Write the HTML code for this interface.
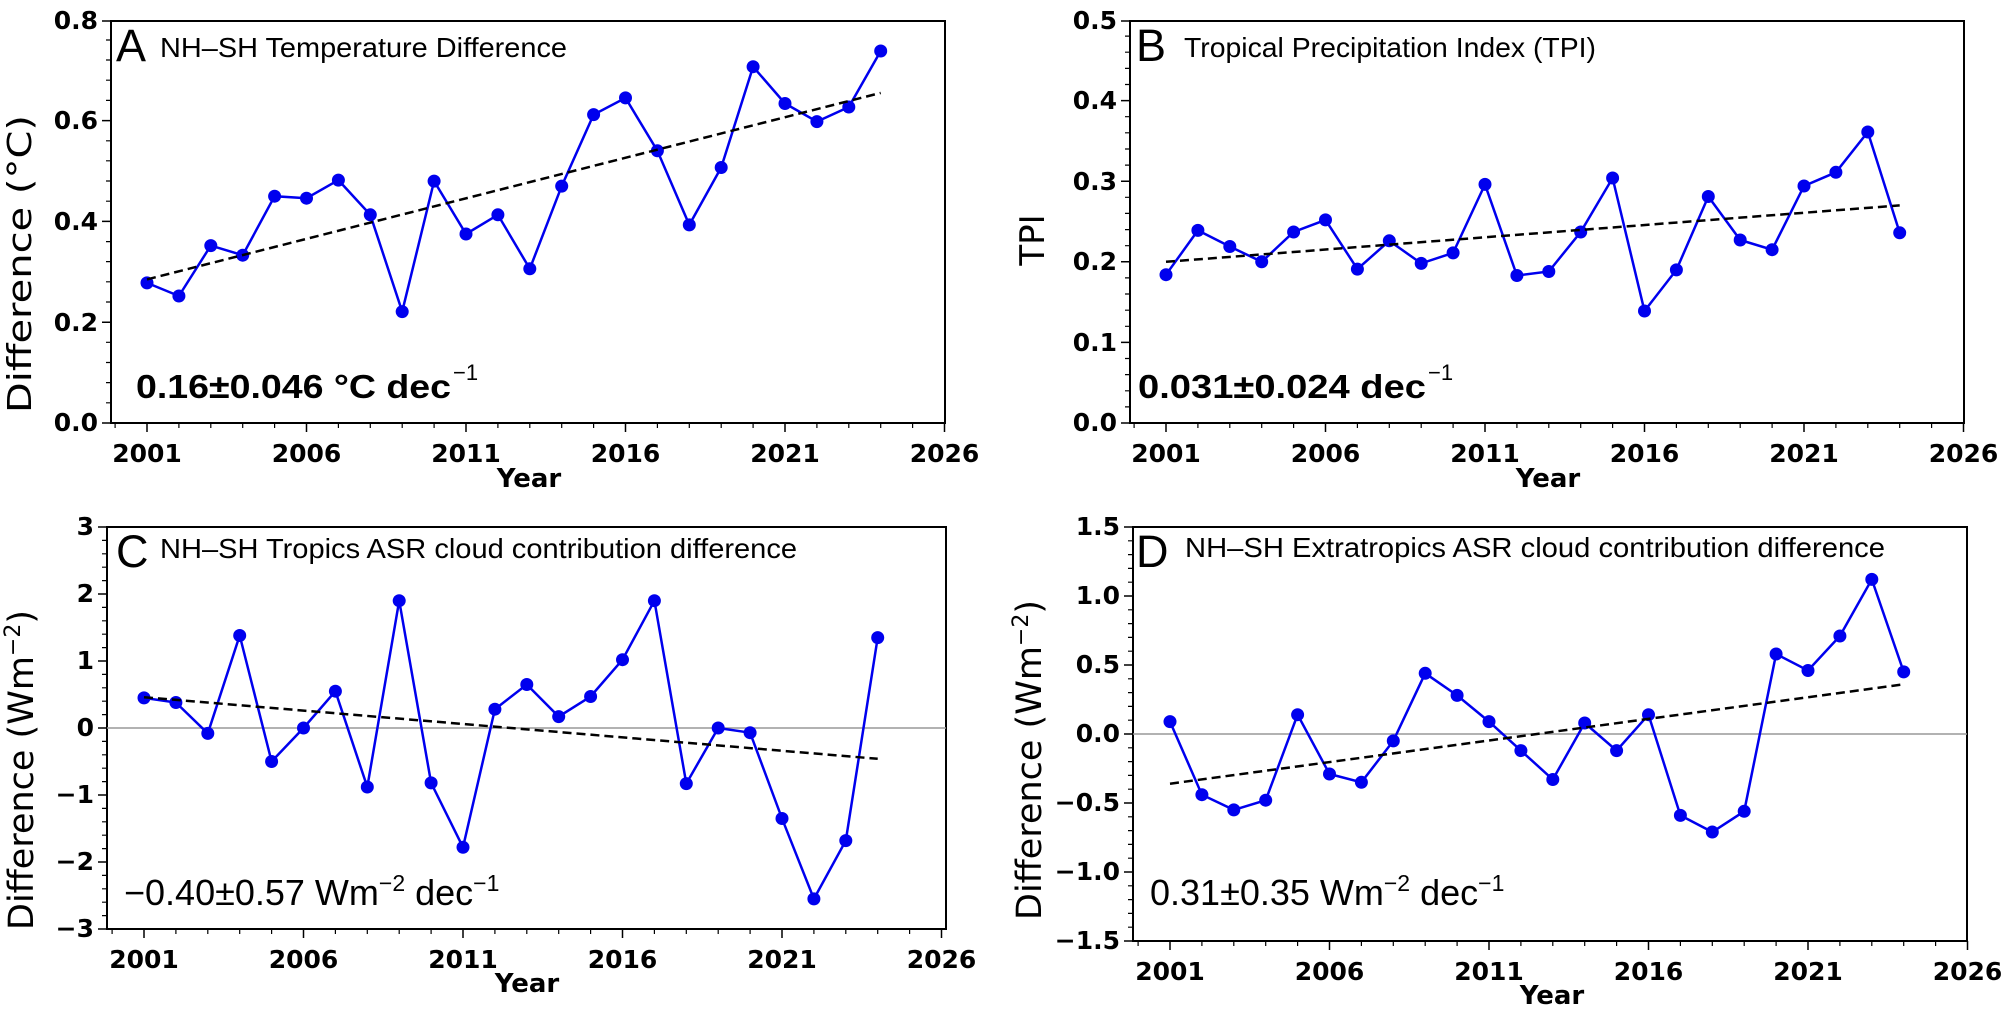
<!DOCTYPE html>
<html><head><meta charset="utf-8"><style>html,body{margin:0;padding:0;background:#fff}svg{display:block}</style></head>
<body>
<svg width="2010" height="1012" viewBox="0 0 2010 1012" xmlns="http://www.w3.org/2000/svg" font-family="'DejaVu Sans', 'Liberation Sans', sans-serif">
<defs>
<g id="xt">
<path d="M147,0v9M306.5,0v9M466,0v9M625.5,0v9M785,0v9M944.5,0v9" stroke="#000" stroke-width="1.5"/>
<path d="M115.1,0v5M178.9,0v5M210.8,0v5M242.7,0v5M274.6,0v5M338.4,0v5M370.3,0v5M402.2,0v5M434.1,0v5M497.9,0v5M529.8,0v5M561.7,0v5M593.6,0v5M657.4,0v5M689.3,0v5M721.2,0v5M753.1,0v5M816.9,0v5M848.8,0v5M880.7,0v5M912.6,0v5" stroke="#000" stroke-width="1.2"/>
<g font-weight="bold" font-size="25" text-anchor="middle" transform="translate(0,39)">
<text x="147">2001</text><text x="306.5">2006</text><text x="466">2011</text><text x="625.5">2016</text><text x="785">2021</text><text x="944.5">2026</text>
</g>
</g>
</defs>

<!-- Panel A -->
<g>
<rect x="111" y="21" width="834" height="402" fill="none" stroke="#000" stroke-width="2"/>
<g transform="translate(0,423)"><use href="#xt"/></g>
<g stroke="#000" stroke-width="1.5"><path d="M111,423h-9M111,322.2h-9M111,221.4h-9M111,120.6h-9M111,21h-9"/></g>
<g stroke="#000" stroke-width="1.2"><path d="M111,402.8h-5M111,382.6h-5M111,362.5h-5M111,342.3h-5M111,302h-5M111,281.8h-5M111,261.6h-5M111,241.6h-5M111,201.2h-5M111,181h-5M111,160.8h-5M111,140.8h-5M111,100.4h-5M111,80.2h-5M111,60h-5M111,40h-5"/></g>
<g font-weight="bold" font-size="25" text-anchor="end"><text x="98" y="431">0.0</text><text x="98" y="331">0.2</text><text x="98" y="230">0.4</text><text x="98" y="129">0.6</text><text x="98" y="29">0.8</text></g>
<text x="529" y="487" font-weight="bold" font-size="26" text-anchor="middle">Year</text>
<text transform="translate(31,264) rotate(-90)" font-size="33" text-anchor="middle" textLength="298" lengthAdjust="spacingAndGlyphs">Difference (°C)</text>
<text x="116" y="61" font-family="'Liberation Sans',sans-serif" font-size="45">A</text>
<text x="160" y="57" font-family="'Liberation Sans',sans-serif" font-size="28" textLength="407" lengthAdjust="spacingAndGlyphs">NH–SH Temperature Difference</text>
<text x="136" y="398" font-family="'Liberation Sans',sans-serif" font-weight="bold" font-size="33" textLength="315" lengthAdjust="spacingAndGlyphs">0.16±0.046 °C dec</text><text x="453" y="380" font-family="'Liberation Sans',sans-serif" font-size="22">−1</text>
<polyline fill="none" stroke="#0000ee" stroke-width="2.5" points="147,282.9 178.9,296 210.8,245.6 242.7,255.2 274.6,196.2 306.5,198.2 338.4,180.1 370.3,214.8 402.2,311.6 434.1,181.1 466,234 497.9,214.8 529.8,268.8 561.7,186.1 593.6,114.6 625.5,97.9 657.4,150.8 689.3,224.9 721.2,167.5 753.1,66.7 785,103.5 816.9,121.6 848.8,107 880.7,51"/>
<g fill="#0000ee"><circle cx="147" cy="282.9" r="6.5"/><circle cx="178.9" cy="296" r="6.5"/><circle cx="210.8" cy="245.6" r="6.5"/><circle cx="242.7" cy="255.2" r="6.5"/><circle cx="274.6" cy="196.2" r="6.5"/><circle cx="306.5" cy="198.2" r="6.5"/><circle cx="338.4" cy="180.1" r="6.5"/><circle cx="370.3" cy="214.8" r="6.5"/><circle cx="402.2" cy="311.6" r="6.5"/><circle cx="434.1" cy="181.1" r="6.5"/><circle cx="466" cy="234" r="6.5"/><circle cx="497.9" cy="214.8" r="6.5"/><circle cx="529.8" cy="268.8" r="6.5"/><circle cx="561.7" cy="186.1" r="6.5"/><circle cx="593.6" cy="114.6" r="6.5"/><circle cx="625.5" cy="97.9" r="6.5"/><circle cx="657.4" cy="150.8" r="6.5"/><circle cx="689.3" cy="224.9" r="6.5"/><circle cx="721.2" cy="167.5" r="6.5"/><circle cx="753.1" cy="66.7" r="6.5"/><circle cx="785" cy="103.5" r="6.5"/><circle cx="816.9" cy="121.6" r="6.5"/><circle cx="848.8" cy="107" r="6.5"/><circle cx="880.7" cy="51" r="6.5"/></g>
<line x1="147" y1="279.4" x2="880.7" y2="92.9" stroke="#000" stroke-width="2.5" stroke-dasharray="9,5"/>
</g>

<!-- Panel B -->
<g>
<rect x="1130" y="21" width="834" height="402" fill="none" stroke="#000" stroke-width="2"/>
<g transform="translate(1019,423)"><use href="#xt"/></g>
<g stroke="#000" stroke-width="1.5"><path d="M1130,423h-9M1130,342.4h-9M1130,261.8h-9M1130,181.2h-9M1130,100.6h-9M1130,21h-9"/></g>
<g stroke="#000" stroke-width="1.2"><path d="M1130,406.9h-5M1130,390.8h-5M1130,374.6h-5M1130,358.5h-5M1130,326.3h-5M1130,310.2h-5M1130,294h-5M1130,277.9h-5M1130,245.7h-5M1130,229.6h-5M1130,213.4h-5M1130,197.3h-5M1130,165.1h-5M1130,149h-5M1130,132.8h-5M1130,116.7h-5M1130,84.5h-5M1130,68.4h-5M1130,52.2h-5M1130,36.1h-5"/></g>
<g font-weight="bold" font-size="25" text-anchor="end"><text x="1117" y="431">0.0</text><text x="1117" y="351">0.1</text><text x="1117" y="270">0.2</text><text x="1117" y="190">0.3</text><text x="1117" y="109">0.4</text><text x="1117" y="29">0.5</text></g>
<text x="1548" y="487" font-weight="bold" font-size="26" text-anchor="middle">Year</text>
<text transform="translate(1044,240) rotate(-90)" font-size="34" text-anchor="middle">TPI</text>
<text x="1136" y="61" font-family="'Liberation Sans',sans-serif" font-size="45">B</text>
<text x="1184" y="57" font-family="'Liberation Sans',sans-serif" font-size="28" textLength="412" lengthAdjust="spacingAndGlyphs">Tropical Precipitation Index (TPI)</text>
<text x="1138" y="398" font-family="'Liberation Sans',sans-serif" font-weight="bold" font-size="33" textLength="288" lengthAdjust="spacingAndGlyphs">0.031±0.024 dec</text><text x="1428" y="380" font-family="'Liberation Sans',sans-serif" font-size="22">−1</text>
<g transform="translate(1019,0)">
<polyline fill="none" stroke="#0000ee" stroke-width="2.5" points="147,274.7 178.9,230.4 210.8,246.5 242.7,261.8 274.6,232 306.5,219.9 338.4,269.1 370.3,240.8 402.2,263.4 434.1,252.9 466,184.4 497.9,275.5 529.8,271.5 561.7,232 593.6,178 625.5,311 657.4,269.9 689.3,196.5 721.2,240 753.1,249.7 785,186 816.9,172.3 848.8,132 880.7,232.8"/>
<g fill="#0000ee"><circle cx="147" cy="274.7" r="6.5"/><circle cx="178.9" cy="230.4" r="6.5"/><circle cx="210.8" cy="246.5" r="6.5"/><circle cx="242.7" cy="261.8" r="6.5"/><circle cx="274.6" cy="232" r="6.5"/><circle cx="306.5" cy="219.9" r="6.5"/><circle cx="338.4" cy="269.1" r="6.5"/><circle cx="370.3" cy="240.8" r="6.5"/><circle cx="402.2" cy="263.4" r="6.5"/><circle cx="434.1" cy="252.9" r="6.5"/><circle cx="466" cy="184.4" r="6.5"/><circle cx="497.9" cy="275.5" r="6.5"/><circle cx="529.8" cy="271.5" r="6.5"/><circle cx="561.7" cy="232" r="6.5"/><circle cx="593.6" cy="178" r="6.5"/><circle cx="625.5" cy="311" r="6.5"/><circle cx="657.4" cy="269.9" r="6.5"/><circle cx="689.3" cy="196.5" r="6.5"/><circle cx="721.2" cy="240" r="6.5"/><circle cx="753.1" cy="249.7" r="6.5"/><circle cx="785" cy="186" r="6.5"/><circle cx="816.9" cy="172.3" r="6.5"/><circle cx="848.8" cy="132" r="6.5"/><circle cx="880.7" cy="232.8" r="6.5"/></g>
<line x1="147" y1="261.8" x2="880.7" y2="205.4" stroke="#000" stroke-width="2.5" stroke-dasharray="9,5"/>
</g>
</g>

<!-- Panel C -->
<g>
<rect x="107" y="527" width="839" height="402" fill="none" stroke="#000" stroke-width="2"/>
<line x1="107" y1="728" x2="946" y2="728" stroke="#999" stroke-width="1.5"/>
<g transform="translate(-3,929)"><use href="#xt"/></g>
<g stroke="#000" stroke-width="1.5"><path d="M107,929h-9M107,862h-9M107,795h-9M107,728h-9M107,661h-9M107,594h-9M107,527h-9"/></g>
<g stroke="#000" stroke-width="1.2"><path d="M107,915.6h-5M107,902.2h-5M107,888.8h-5M107,875.4h-5M107,848.6h-5M107,835.2h-5M107,821.8h-5M107,808.4h-5M107,781.6h-5M107,768.2h-5M107,754.8h-5M107,741.4h-5M107,714.6h-5M107,701.2h-5M107,687.8h-5M107,674.4h-5M107,647.6h-5M107,634.2h-5M107,620.8h-5M107,607.4h-5M107,580.6h-5M107,567.2h-5M107,553.8h-5M107,540.4h-5"/></g>
<g font-weight="bold" font-size="25" text-anchor="end"><text x="94" y="937">−3</text><text x="94" y="870">−2</text><text x="94" y="803">−1</text><text x="94" y="736">0</text><text x="94" y="669">1</text><text x="94" y="602">2</text><text x="94" y="535">3</text></g>
<text x="527" y="992" font-weight="bold" font-size="26" text-anchor="middle">Year</text>
<text transform="translate(33,770) rotate(-90)" font-size="35" text-anchor="middle">Difference (Wm<tspan dy="-13" font-size="22">−2</tspan><tspan dy="13">)</tspan></text>
<text x="116" y="567" font-family="'Liberation Sans',sans-serif" font-size="45">C</text>
<text x="160" y="558" font-family="'Liberation Sans',sans-serif" font-size="28" textLength="637" lengthAdjust="spacingAndGlyphs">NH–SH Tropics ASR cloud contribution difference</text>
<text x="124" y="905" font-family="'Liberation Sans',sans-serif" font-size="36">−0.40±0.57 Wm<tspan dy="-14" font-size="23">−2</tspan><tspan dy="14"> dec</tspan><tspan dy="-14" font-size="23">−1</tspan></text>
<g transform="translate(-3,0)">
<polyline fill="none" stroke="#0000ee" stroke-width="2.5" points="147,697.9 178.9,702.5 210.8,733.4 242.7,635.5 274.6,761.5 306.5,728 338.4,691.2 370.3,787 402.2,600.7 434.1,782.9 466,847.3 497.9,709.2 529.8,684.5 561.7,716.6 593.6,696.5 625.5,659.7 657.4,600.7 689.3,783.6 721.2,728 753.1,732.7 785,818.5 816.9,898.9 848.8,840.6 880.7,637.6"/>
<g fill="#0000ee"><circle cx="147" cy="697.9" r="6.5"/><circle cx="178.9" cy="702.5" r="6.5"/><circle cx="210.8" cy="733.4" r="6.5"/><circle cx="242.7" cy="635.5" r="6.5"/><circle cx="274.6" cy="761.5" r="6.5"/><circle cx="306.5" cy="728" r="6.5"/><circle cx="338.4" cy="691.2" r="6.5"/><circle cx="370.3" cy="787" r="6.5"/><circle cx="402.2" cy="600.7" r="6.5"/><circle cx="434.1" cy="782.9" r="6.5"/><circle cx="466" cy="847.3" r="6.5"/><circle cx="497.9" cy="709.2" r="6.5"/><circle cx="529.8" cy="684.5" r="6.5"/><circle cx="561.7" cy="716.6" r="6.5"/><circle cx="593.6" cy="696.5" r="6.5"/><circle cx="625.5" cy="659.7" r="6.5"/><circle cx="657.4" cy="600.7" r="6.5"/><circle cx="689.3" cy="783.6" r="6.5"/><circle cx="721.2" cy="728" r="6.5"/><circle cx="753.1" cy="732.7" r="6.5"/><circle cx="785" cy="818.5" r="6.5"/><circle cx="816.9" cy="898.9" r="6.5"/><circle cx="848.8" cy="840.6" r="6.5"/><circle cx="880.7" cy="637.6" r="6.5"/></g>
<line x1="147" y1="697.2" x2="880.7" y2="758.8" stroke="#000" stroke-width="2.5" stroke-dasharray="9,5"/>
</g>
</g>

<!-- Panel D -->
<g>
<rect x="1133" y="527" width="834" height="414" fill="none" stroke="#000" stroke-width="2"/>
<line x1="1133" y1="734" x2="1967" y2="734" stroke="#999" stroke-width="1.5"/>
<g transform="translate(1023,941)"><use href="#xt"/></g>
<g stroke="#000" stroke-width="1.5"><path d="M1133,941h-9M1133,872h-9M1133,803h-9M1133,734h-9M1133,665h-9M1133,596h-9M1133,527h-9"/></g>
<g stroke="#000" stroke-width="1.2"><path d="M1133,927.2h-5M1133,913.4h-5M1133,899.6h-5M1133,885.8h-5M1133,858.2h-5M1133,844.4h-5M1133,830.6h-5M1133,816.8h-5M1133,789.2h-5M1133,775.4h-5M1133,761.6h-5M1133,747.8h-5M1133,720.2h-5M1133,706.4h-5M1133,692.6h-5M1133,678.8h-5M1133,651.2h-5M1133,637.4h-5M1133,623.6h-5M1133,609.8h-5M1133,582.2h-5M1133,568.4h-5M1133,554.6h-5M1133,540.8h-5"/></g>
<g font-weight="bold" font-size="25" text-anchor="end"><text x="1120" y="949">−1.5</text><text x="1120" y="880">−1.0</text><text x="1120" y="811">−0.5</text><text x="1120" y="742">0.0</text><text x="1120" y="673">0.5</text><text x="1120" y="604">1.0</text><text x="1120" y="535">1.5</text></g>
<text x="1552" y="1004" font-weight="bold" font-size="26" text-anchor="middle">Year</text>
<text transform="translate(1041,760) rotate(-90)" font-size="35" text-anchor="middle">Difference (Wm<tspan dy="-13" font-size="22">−2</tspan><tspan dy="13">)</tspan></text>
<text x="1136" y="567" font-family="'Liberation Sans',sans-serif" font-size="45">D</text>
<text x="1185" y="557" font-family="'Liberation Sans',sans-serif" font-size="28" textLength="700" lengthAdjust="spacingAndGlyphs">NH–SH Extratropics ASR cloud contribution difference</text>
<text x="1150" y="905" font-family="'Liberation Sans',sans-serif" font-size="36">0.31±0.35 Wm<tspan dy="-14" font-size="23">−2</tspan><tspan dy="14"> dec</tspan><tspan dy="-14" font-size="23">−1</tspan></text>
<g transform="translate(1023,0)">
<polyline fill="none" stroke="#0000ee" stroke-width="2.5" points="147,721.6 178.9,794.7 210.8,809.9 242.7,800.2 274.6,714.7 306.5,774 338.4,782.3 370.3,740.9 402.2,673.3 434.1,695.4 466,721.6 497.9,750.6 529.8,779.5 561.7,723 593.6,750.6 625.5,714.7 657.4,815.4 689.3,832 721.2,811.3 753.1,654 785,670.5 816.9,636 848.8,579.4 880.7,671.9"/>
<g fill="#0000ee"><circle cx="147" cy="721.6" r="6.5"/><circle cx="178.9" cy="794.7" r="6.5"/><circle cx="210.8" cy="809.9" r="6.5"/><circle cx="242.7" cy="800.2" r="6.5"/><circle cx="274.6" cy="714.7" r="6.5"/><circle cx="306.5" cy="774" r="6.5"/><circle cx="338.4" cy="782.3" r="6.5"/><circle cx="370.3" cy="740.9" r="6.5"/><circle cx="402.2" cy="673.3" r="6.5"/><circle cx="434.1" cy="695.4" r="6.5"/><circle cx="466" cy="721.6" r="6.5"/><circle cx="497.9" cy="750.6" r="6.5"/><circle cx="529.8" cy="779.5" r="6.5"/><circle cx="561.7" cy="723" r="6.5"/><circle cx="593.6" cy="750.6" r="6.5"/><circle cx="625.5" cy="714.7" r="6.5"/><circle cx="657.4" cy="815.4" r="6.5"/><circle cx="689.3" cy="832" r="6.5"/><circle cx="721.2" cy="811.3" r="6.5"/><circle cx="753.1" cy="654" r="6.5"/><circle cx="785" cy="670.5" r="6.5"/><circle cx="816.9" cy="636" r="6.5"/><circle cx="848.8" cy="579.4" r="6.5"/><circle cx="880.7" cy="671.9" r="6.5"/></g>
<line x1="147" y1="783.7" x2="880.7" y2="684.3" stroke="#000" stroke-width="2.5" stroke-dasharray="9,5"/>
</g>
</g>
</svg>
</body></html>
